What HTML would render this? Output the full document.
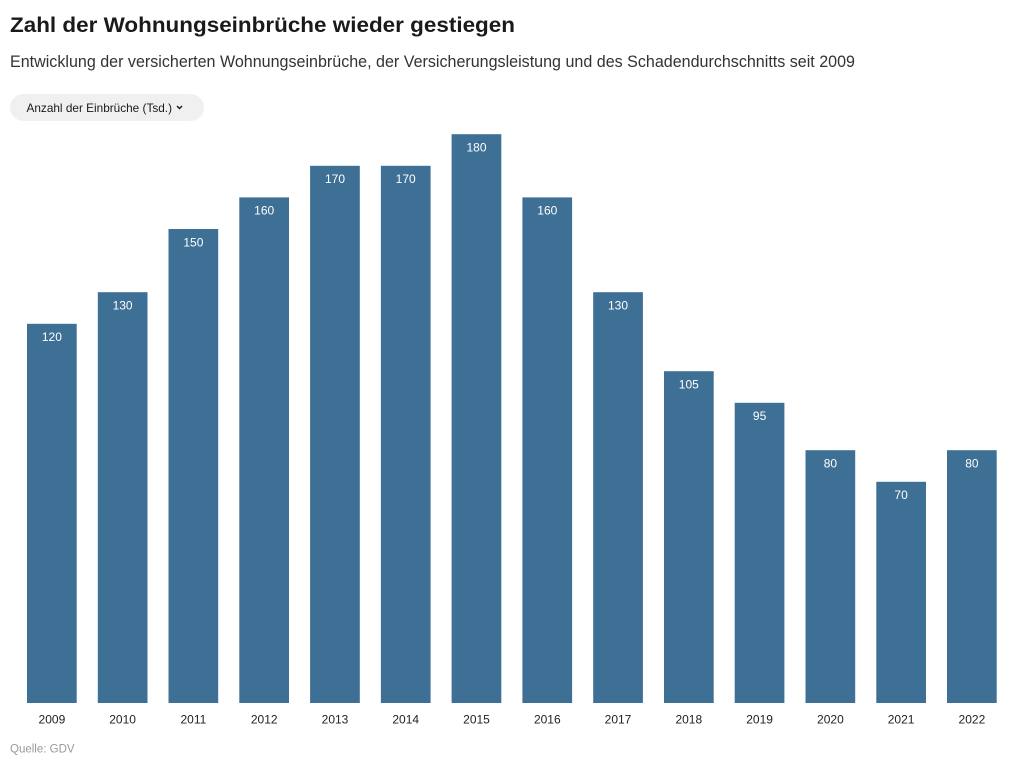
<!DOCTYPE html>
<html>
<head>
<meta charset="utf-8">
<style>
html,body{margin:0;padding:0;background:#fff;}
svg{display:block;}
text{font-family:"Liberation Sans",Arial,sans-serif;}
</style>
</head>
<body>
<svg width="1024" height="768" viewBox="0 0 1024 768" xmlns="http://www.w3.org/2000/svg">
<rect width="1024" height="768" fill="#fff"/>
<text x="10" y="32" font-size="21.5" font-weight="bold" fill="#1a1a1a" textLength="505" lengthAdjust="spacingAndGlyphs">Zahl der Wohnungseinbrüche wieder gestiegen</text>
<text x="10" y="67" font-size="16.5" fill="#333" textLength="845" lengthAdjust="spacingAndGlyphs">Entwicklung der versicherten Wohnungseinbrüche, der Versicherungsleistung und des Schadendurchschnitts seit 2009</text>
<rect x="10" y="94" width="194" height="27" rx="13.5" fill="#f0f0f0"/>
<text x="26.5" y="112" font-size="12" fill="#1a1a1a" textLength="145.5" lengthAdjust="spacingAndGlyphs">Anzahl der Einbrüche (Tsd.)</text>
<polyline points="177,106 179.5,108.5 182,106" fill="none" stroke="#1a1a1a" stroke-width="1.4"/>
<g fill="#3e6f95">
<rect x="27" y="323.8" width="49.7" height="379.2"/>
<rect x="97.8" y="292.2" width="49.7" height="410.8"/>
<rect x="168.5" y="229" width="49.7" height="474"/>
<rect x="239.3" y="197.4" width="49.7" height="505.6"/>
<rect x="310.1" y="165.8" width="49.7" height="537.2"/>
<rect x="380.9" y="165.8" width="49.7" height="537.2"/>
<rect x="451.6" y="134.2" width="49.7" height="568.8"/>
<rect x="522.4" y="197.4" width="49.7" height="505.6"/>
<rect x="593.2" y="292.2" width="49.7" height="410.8"/>
<rect x="664" y="371.2" width="49.7" height="331.8"/>
<rect x="734.7" y="402.8" width="49.7" height="300.2"/>
<rect x="805.5" y="450.2" width="49.7" height="252.8"/>
<rect x="876.3" y="481.8" width="49.7" height="221.2"/>
<rect x="947" y="450.2" width="49.7" height="252.8"/>
</g>
<g fill="#fff" font-size="12" text-anchor="middle">
<text x="51.9" y="341">120</text>
<text x="122.6" y="309.5">130</text>
<text x="193.4" y="246.3">150</text>
<text x="264.2" y="214.7">160</text>
<text x="335" y="183.1">170</text>
<text x="405.7" y="183.1">170</text>
<text x="476.5" y="151.5">180</text>
<text x="547.3" y="214.7">160</text>
<text x="618" y="309.5">130</text>
<text x="688.8" y="388.5">105</text>
<text x="759.6" y="420.1">95</text>
<text x="830.4" y="467.5">80</text>
<text x="901.1" y="499.1">70</text>
<text x="971.9" y="467.5">80</text>
</g>
<g fill="#222" font-size="12" text-anchor="middle">
<text x="51.9" y="723.5">2009</text>
<text x="122.6" y="723.5">2010</text>
<text x="193.4" y="723.5">2011</text>
<text x="264.2" y="723.5">2012</text>
<text x="335" y="723.5">2013</text>
<text x="405.7" y="723.5">2014</text>
<text x="476.5" y="723.5">2015</text>
<text x="547.3" y="723.5">2016</text>
<text x="618" y="723.5">2017</text>
<text x="688.8" y="723.5">2018</text>
<text x="759.6" y="723.5">2019</text>
<text x="830.4" y="723.5">2020</text>
<text x="901.1" y="723.5">2021</text>
<text x="971.9" y="723.5">2022</text>
</g>
<text x="10" y="752.5" font-size="11.5" fill="#999">Quelle: GDV</text>
</svg>
</body>
</html>
